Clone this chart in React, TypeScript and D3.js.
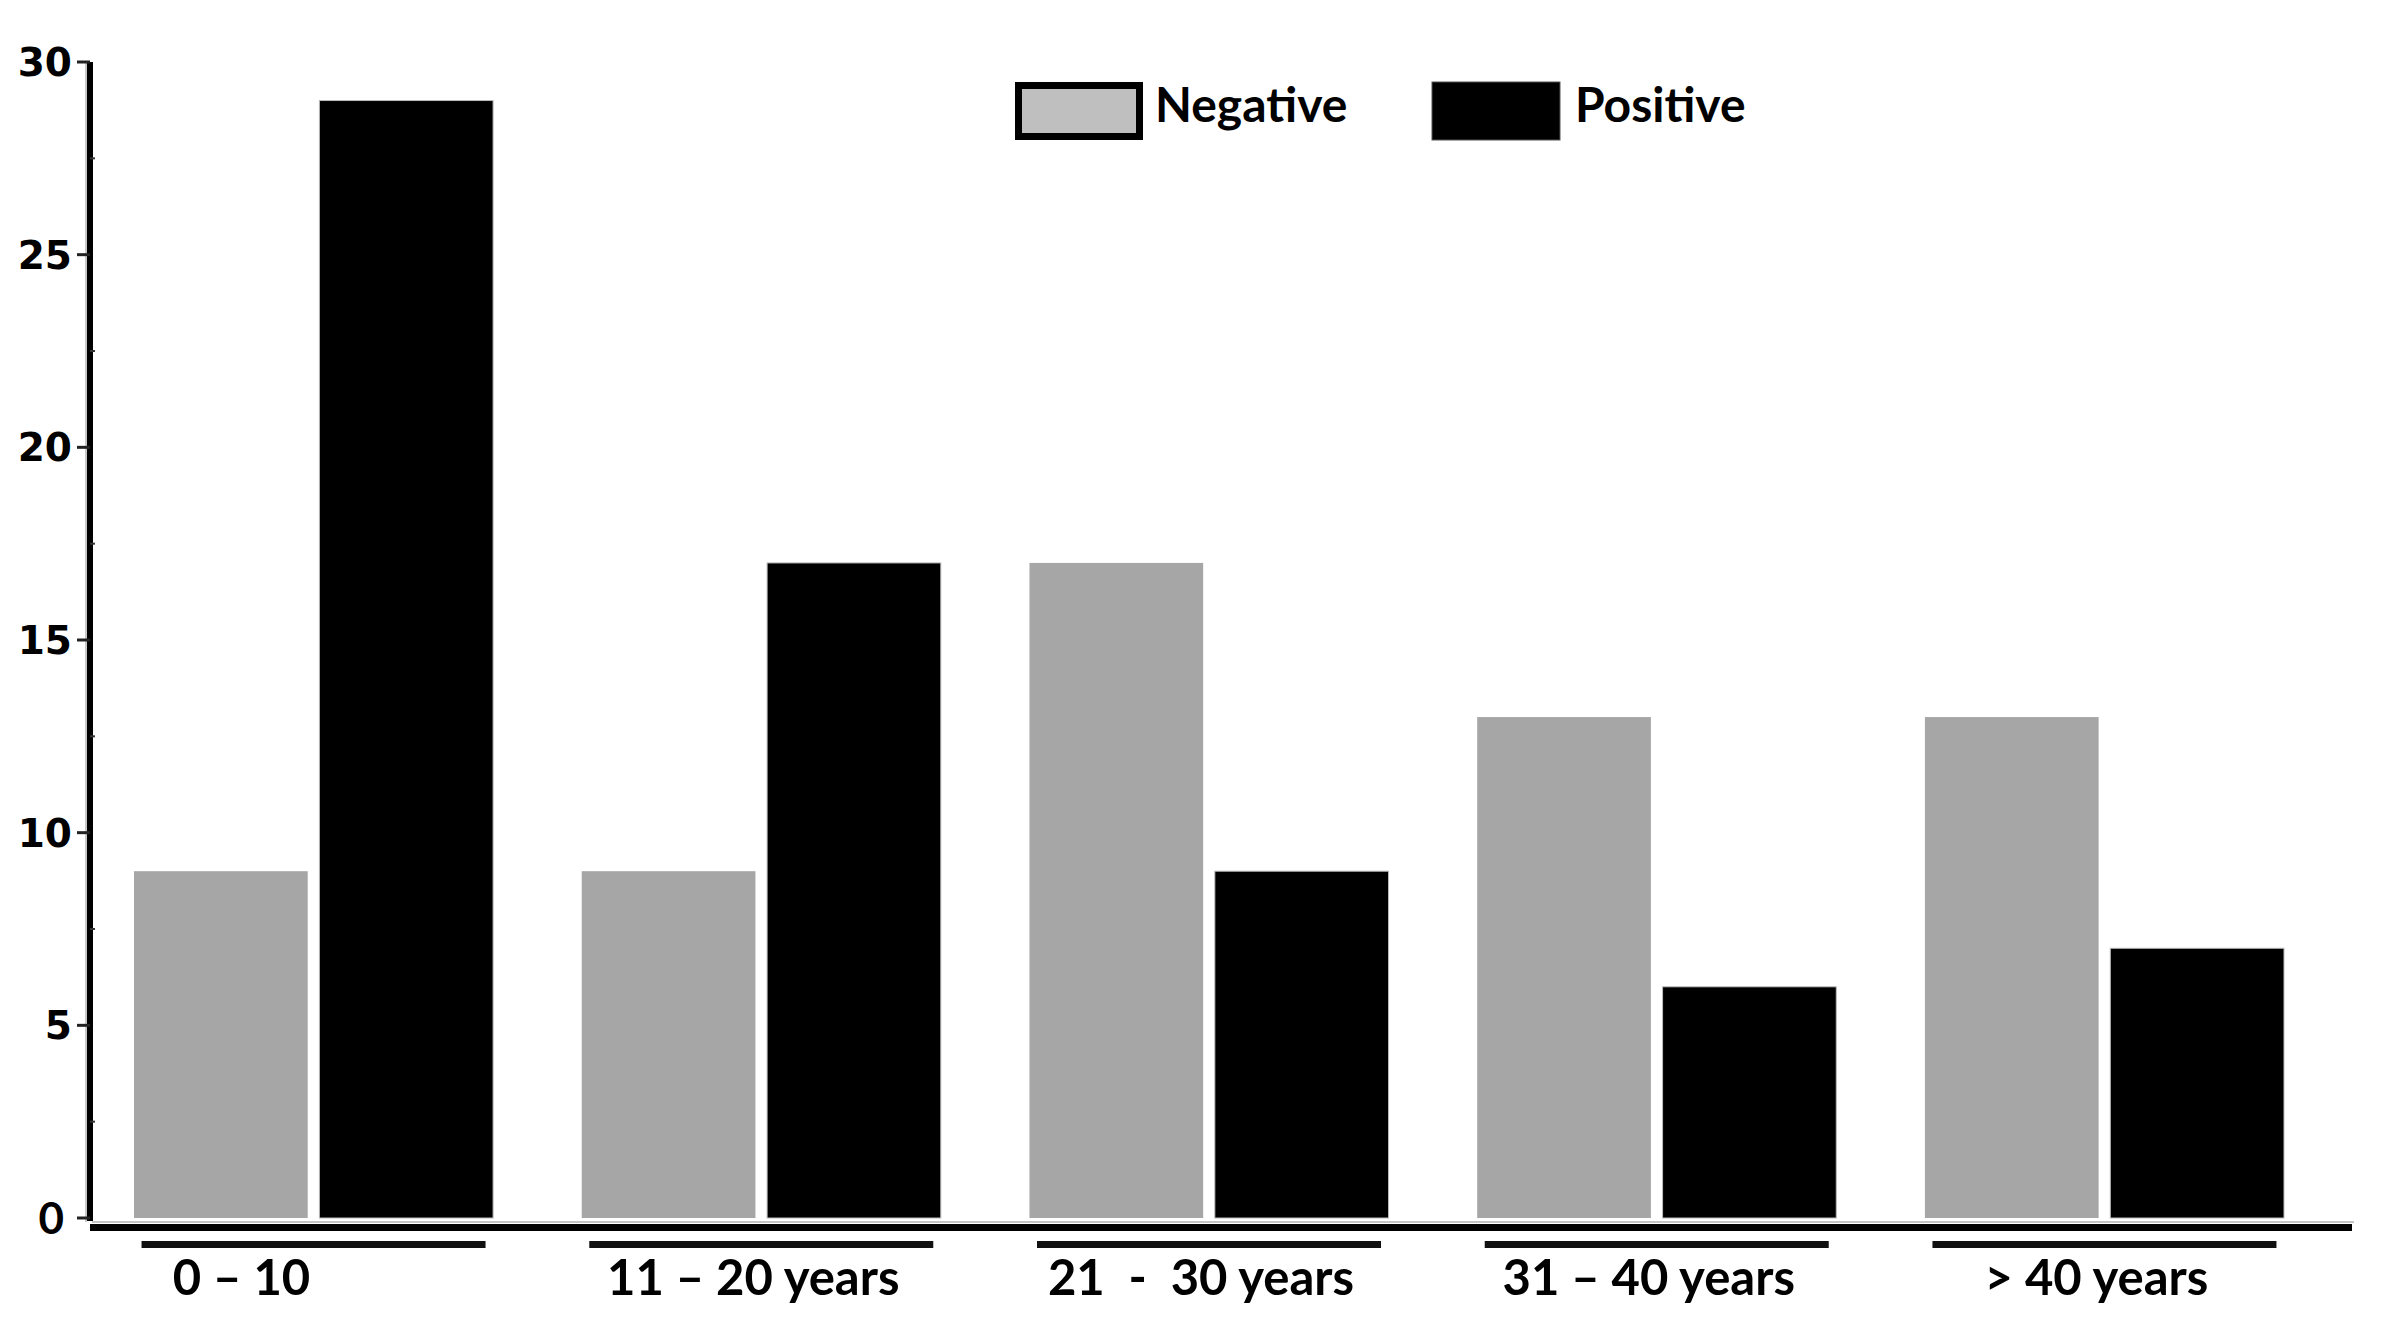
import React from "react";
import * as d3 from "d3";

const categories = ["0 – 10", "11 – 20 years", "21  -  30 years", "31 – 40 years", "> 40 years"];
const seriesNames = ["Negative", "Positive"];
const negative = [9, 9, 17, 13, 13];
const positive = [29, 17, 9, 6, 7];
const yTicks = [0, 5, 10, 15, 20, 25, 30];
const yMinorTicks = [2.5, 7.5, 12.5, 17.5, 22.5, 27.5];

const W = 2383;
const H = 1329;
const barColor: Record<string, string> = { Negative: "#a6a6a6", Positive: "#000000" };
const swatchColor: Record<string, string> = { Negative: "#bfbfbf", Positive: "#000000" };
const labelFont = "Lato, 'Open Sans', sans-serif";

export default function App() {
  const x = d3.scaleBand<string>().domain(categories).range([134, 2284]).paddingInner(0.198).paddingOuter(0);
  const xs = d3.scaleBand<string>().domain(seriesNames).range([0, x.bandwidth()]).paddingInner(0.063);
  const y = d3.scaleLinear().domain([0, 30]).range([1218, 62]);

  const rows = categories.map((c, i) => ({ cat: c, values: [negative[i], positive[i]] }));
  const axisX = 90;
  const baseY = y(0);

  return (
    <svg width={W} height={H} style={{ position: "absolute", left: 0, top: 0, background: "#fff" }}>
      {/* bars */}
      {rows.map((r) => (
        <g key={r.cat} transform={`translate(${x(r.cat)},0)`}>
          {r.values.map((v, j) => (
            <rect
              key={j}
              x={xs(seriesNames[j])}
              y={y(v)}
              width={xs.bandwidth()}
              height={baseY - y(v)}
              fill={barColor[seriesNames[j]]}
              stroke={j === 1 ? "#bbb" : "none"}
              strokeWidth={1}
            />
          ))}
        </g>
      ))}

      {/* y axis */}
      <line x1={axisX - 4} x2={axisX - 4} y1={y(30)} y2={baseY + 4} stroke="#c8c8c8" strokeWidth={2} />
      <line x1={axisX} x2={axisX} y1={y(30)} y2={baseY + 3} stroke="#000" strokeWidth={6} />
      {yTicks.map((t) => (
        <line key={t} x1={axisX - 13} x2={axisX} y1={y(t)} y2={y(t)} stroke="#222" strokeWidth={3} />
      ))}
      {yMinorTicks.map((t) => (
        <line key={t} x1={axisX} x2={axisX + 5} y1={y(t)} y2={y(t)} stroke="#333" strokeWidth={2} />
      ))}
      {yTicks.map((t) =>
        t === 0 ? (
          <text key={t} x={64} y={y(t)} dy="0.36em" textAnchor="end" fontFamily={labelFont} fontWeight={700} fontSize={44}>
            {t}
          </text>
        ) : (
          <text key={t} x={72} y={y(t)} dy="0.36em" textAnchor="end" fontFamily="'DejaVu Sans', sans-serif" fontWeight={700} fontSize={39}>
            {t}
          </text>
        )
      )}

      {/* x axis */}
      <line x1={axisX + 2} x2={2354} y1={baseY + 4} y2={baseY + 4} stroke="#c4c4c4" strokeWidth={2} />
      <line x1={axisX} x2={2352} y1={baseY + 9.5} y2={baseY + 9.5} stroke="#000" strokeWidth={7} />

      {/* group underlines and labels */}
      {categories.map((c, i) => {
        const cx = (x(c) ?? 0) + x.bandwidth() / 2;
        return (
          <g key={c}>
            <line x1={cx - 172} x2={cx + 172} y1={baseY + 26.5} y2={baseY + 26.5} stroke="#111" strokeWidth={7} />
            <text
              x={cx}
              dx={i === 0 ? -72 : -8}
              y={1295}
              textAnchor="middle"
              fontFamily={labelFont}
              fontWeight={700}
              fontSize={49}
              style={{ whiteSpace: "pre" }}
            >
              {c}
            </text>
          </g>
        );
      })}

      {/* legend */}
      {seriesNames.map((s, i) => {
        const lx = 1015 + i * 417;
        return (
          <g key={s}>
            {s === "Negative" ? (
              <rect x={lx + 3.5} y={85.5} width={121} height={51} fill={swatchColor[s]} stroke="#000" strokeWidth={7} />
            ) : (
              <rect x={lx} y={82} width={128} height={58} fill={swatchColor[s]} stroke="#555" strokeWidth={1} />
            )}
            <text x={lx + 140 + (i === 1 ? 3 : 0)} y={122} fontFamily={labelFont} fontWeight={700} fontSize={48}>
              {s}
            </text>
          </g>
        );
      })}
    </svg>
  );
}
